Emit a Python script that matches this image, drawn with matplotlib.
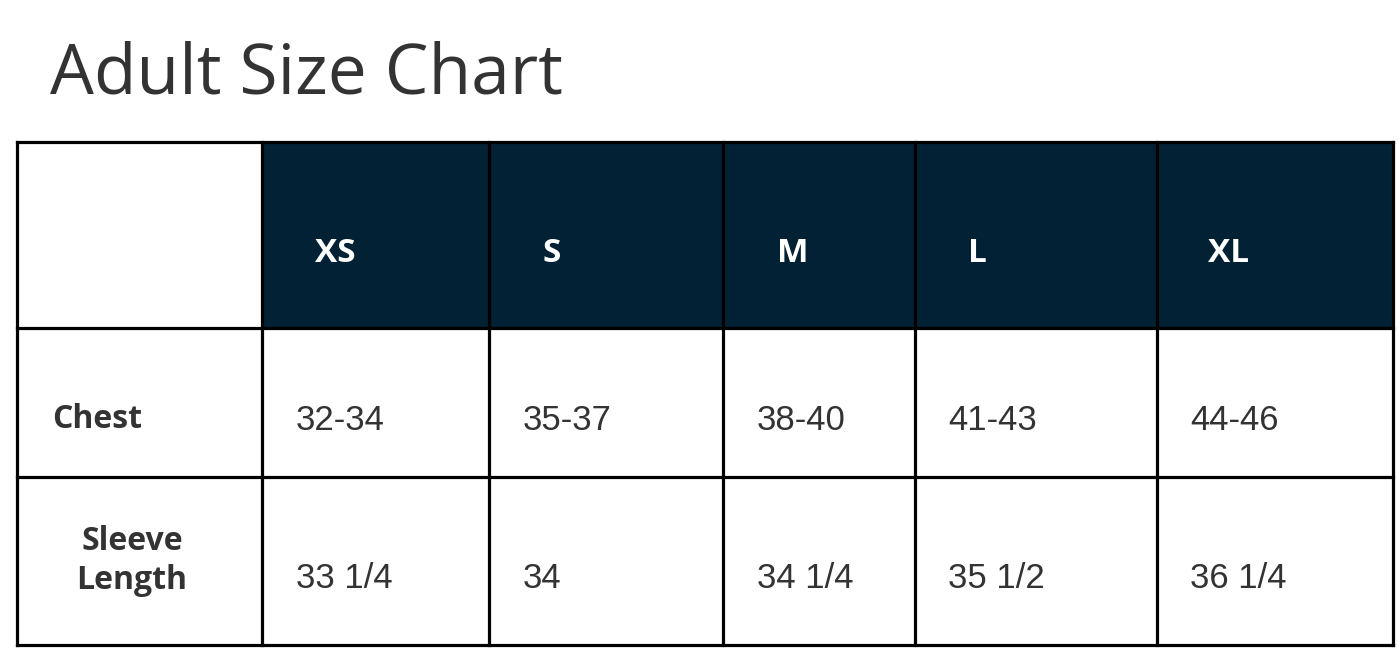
import matplotlib
matplotlib.use("Agg")
import matplotlib.pyplot as plt
from matplotlib.patches import Rectangle

title = "Adult Size Chart"
sizes = ["XS", "S", "M", "L", "XL"]
row_labels = ["Chest", "Sleeve\nLength"]
chest = ["32-34", "35-37", "38-40", "41-43", "44-46"]
sleeve = ["33 1/4", "34", "34 1/4", "35 1/2", "36 1/4"]

W, H = 1399, 651
fig = plt.figure(figsize=(W/100, H/100), dpi=100)
ax = fig.add_axes([0, 0, 1, 1])
ax.set_xlim(0, W); ax.set_ylim(H, 0); ax.axis("off")

cols = [17, 262, 489, 723, 915, 1157, 1393]
rows = [142, 328, 477, 645]
navy = "#022135"
for i in range(1, 6):
    ax.add_patch(Rectangle((cols[i], rows[0]), cols[i+1]-cols[i], rows[1]-rows[0], color=navy, zorder=1))
for x in cols:
    ax.plot([x, x], [rows[0], rows[-1]], color="black", lw=2.3, zorder=3, solid_capstyle="projecting")
for y in rows:
    ax.plot([cols[0], cols[-1]], [y, y], color="black", lw=2.3, zorder=3, solid_capstyle="projecting")

ax.text(50, 76, title, fontsize=50, family="Open Sans", color="#333333", va="center", ha="left")

hx = [315, 542, 777, 968, 1208]
for x, s in zip(hx, sizes):
    ax.text(x, 253, s, fontsize=24, family="Open Sans", weight="bold", color="white", va="center", ha="left", zorder=4)

dx = [296, 523, 757, 948, 1190]
ax.text(52, 420, row_labels[0], fontsize=23, family="Open Sans", weight="bold", color="#333333", va="center", ha="left")
ax.text(132, 561, row_labels[1], fontsize=23, family="Open Sans", weight="bold", color="#333333", va="center", ha="center", linespacing=1.25)
for x, a, b in zip(dx, chest, sleeve):
    ax.text(x, 420, a, fontsize=25, family="Liberation Sans", color="#333333", va="center", ha="left")
    ax.text(x, 578, b, fontsize=25, family="Liberation Sans", color="#333333", va="center", ha="left")

fig.savefig("out.png", dpi=100)
